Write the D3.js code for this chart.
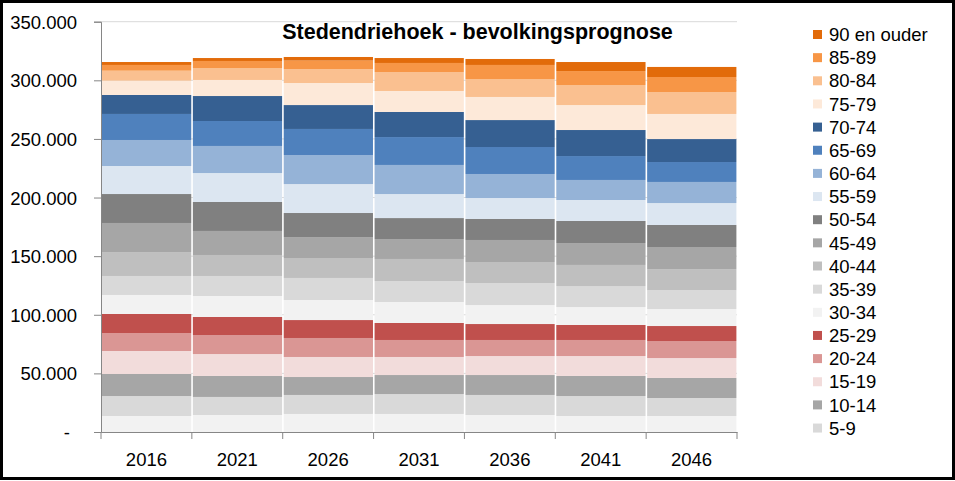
<!DOCTYPE html>
<html><head><meta charset="utf-8">
<script src="https://cdn.jsdelivr.net/npm/d3@7"></script>
<style>body{margin:0;background:#fff;} svg{display:block;font-family:"Liberation Sans",Arial,sans-serif;}</style>
</head><body>
<svg id="chart" width="955" height="481"></svg>
<script>
const years = ["2016","2021","2026","2031","2036","2041","2046"];
const ageGroups = ["0-4","5-9","10-14","15-19","20-24","25-29","30-34","35-39","40-44","45-49","50-54","55-59","60-64","65-69","70-74","75-79","80-84","85-89","90 en ouder"];
const colors = ["#f2f2f2","#d9d9d9","#a6a6a6","#f2dcdb","#da9694","#c0504d","#f2f2f2","#d9d9d9","#bfbfbf","#a6a6a6","#808080","#dce6f1","#95b3d7","#4f81bd","#366092","#fde9d9","#fac090","#f79646","#e26b0a"];
const a0_4   = [13650,14500,15400,15400,14500,13650,13650];
const a5_9   = [17050,15400,16200,17000,17100,17050,15350];
const a10_14 = [18800,17900,15300,16200,17000,17100,17100];
const a15_19 = [19600,18700,17100,15400,16200,17000,17000];
const a20_24 = [15300,16200,16200,14500,13700,13700,14500];
const a25_29 = [16300,15400,15300,14500,13600,12800,12800];
const a30_34 = [16200,17900,17100,17900,16200,15300,14500];
const a35_39 = [16200,17100,18800,17900,18800,17900,16200];
const a40_44 = [20400,17900,17000,18800,17900,18000,17900];
const a45_49 = [24800,20500,17900,17000,18800,18700,18800];
const a50_54 = [24700,24700,20500,17900,17900,18800,18800];
const a55_59 = [23900,24700,24700,20500,17900,17900,18700];
const a60_64 = [22200,23100,24800,24800,20500,17100,18000];
const a65_69 = [22200,21300,22200,23800,23000,20400,17000];
const a70_74 = [16200,21300,20400,21400,23000,22200,19600];
const a75_79 = [12200,13700,18800,17900,19700,21300,21400];
const a80_84 = [8500,10200,11900,16200,15300,17100,18700];
const a85_89 = [4900,6000,7200,7700,12000,11900,12800];
const a90p   = [2500,2500,3100,4200,5100,7700,8600];
const yTicks = [0,50000,100000,150000,200000,250000,300000,350000];
const title = "Stedendriehoek - bevolkingsprognose";

const series = [a0_4,a5_9,a10_14,a15_19,a20_24,a25_29,a30_34,a35_39,a40_44,a45_49,a50_54,a55_59,a60_64,a65_69,a70_74,a75_79,a80_84,a85_89,a90p];
const rows = years.map((y,i)=>{const r={year:y}; ageGroups.forEach((g,j)=>r[g]=series[j][i]); return r;});
const stacked = d3.stack().keys(ageGroups)(rows);

const svg = d3.select("#chart");
const x = d3.scaleBand().domain(years).range([101,737]).padding(0);
const y = d3.scaleLinear().domain([0,350000]).range([432,21.7]);

// gridlines
svg.append("g").selectAll("line").data(yTicks.filter(d=>d>0)).join("line")
  .attr("x1",101).attr("x2",737).attr("y1",d=>y(d)).attr("y2",d=>y(d))
  .attr("stroke","#d9d9d9").attr("stroke-width",1);

// bars
svg.append("g").selectAll("g").data(stacked).join("g")
  .attr("fill",(d,i)=>colors[i])
  .selectAll("rect").data(d=>d).join("rect")
  .attr("x",d=>x(d.data.year)+1)
  .attr("width",x.bandwidth()-1.6)
  .attr("y",d=>y(d[1]))
  .attr("height",d=>y(d[0])-y(d[1]));

// y axis
const fmt = d=> d===0 ? "-" : d3.format(",")(d).replace(/,/g,".");
const ya = svg.append("g").attr("transform","translate(101,0)")
  .call(d3.axisLeft(y).tickValues(yTicks).tickSize(7).tickPadding(14).tickFormat(fmt));
ya.select(".domain").attr("stroke","#868686");
ya.selectAll(".tick line").attr("stroke","#868686");
ya.selectAll(".tick text").attr("fill","#000").style("font-size","18.5px").attr("dy","0.35em")
  .attr("x",d=>d===0?-31:-24);

// x axis
const xa = svg.append("g").attr("transform","translate(0,432)")
  .call(d3.axisBottom(x).tickSize(0).tickPadding(21));
xa.select(".domain").attr("stroke","#868686");
xa.selectAll(".tick text").attr("fill","#000").style("font-size","18.5px");
svg.append("g").selectAll("line").data(years.concat(["end"])).join("line")
  .attr("x1",(d,i)=>101+i*x.bandwidth()).attr("x2",(d,i)=>101+i*x.bandwidth())
  .attr("y1",432).attr("y2",439).attr("stroke","#868686");

// title
svg.append("text").attr("x",477.5).attr("y",39).attr("text-anchor","middle")
  .style("font-size","21.5px").style("font-weight","bold").text(title);

// legend
const legendItems = ageGroups.map((g,i)=>({g,c:colors[i]})).slice(1).reverse();
const lg = svg.append("g").selectAll("g").data(legendItems).join("g")
  .attr("transform",(d,i)=>`translate(813,${34.5+i*23.15})`);
lg.append("rect").attr("x",0).attr("y",-4.5).attr("width",9).attr("height",9).attr("fill",d=>d.c);
lg.append("text").attr("x",16).attr("dy","0.36em").style("font-size","18.5px").text(d=>d.g);

// outer frame
svg.append("rect").attr("x",1.5).attr("y",1.5).attr("width",952).attr("height",477)
  .attr("fill","none").attr("stroke","#000").attr("stroke-width",3);
</script>
</body></html>
